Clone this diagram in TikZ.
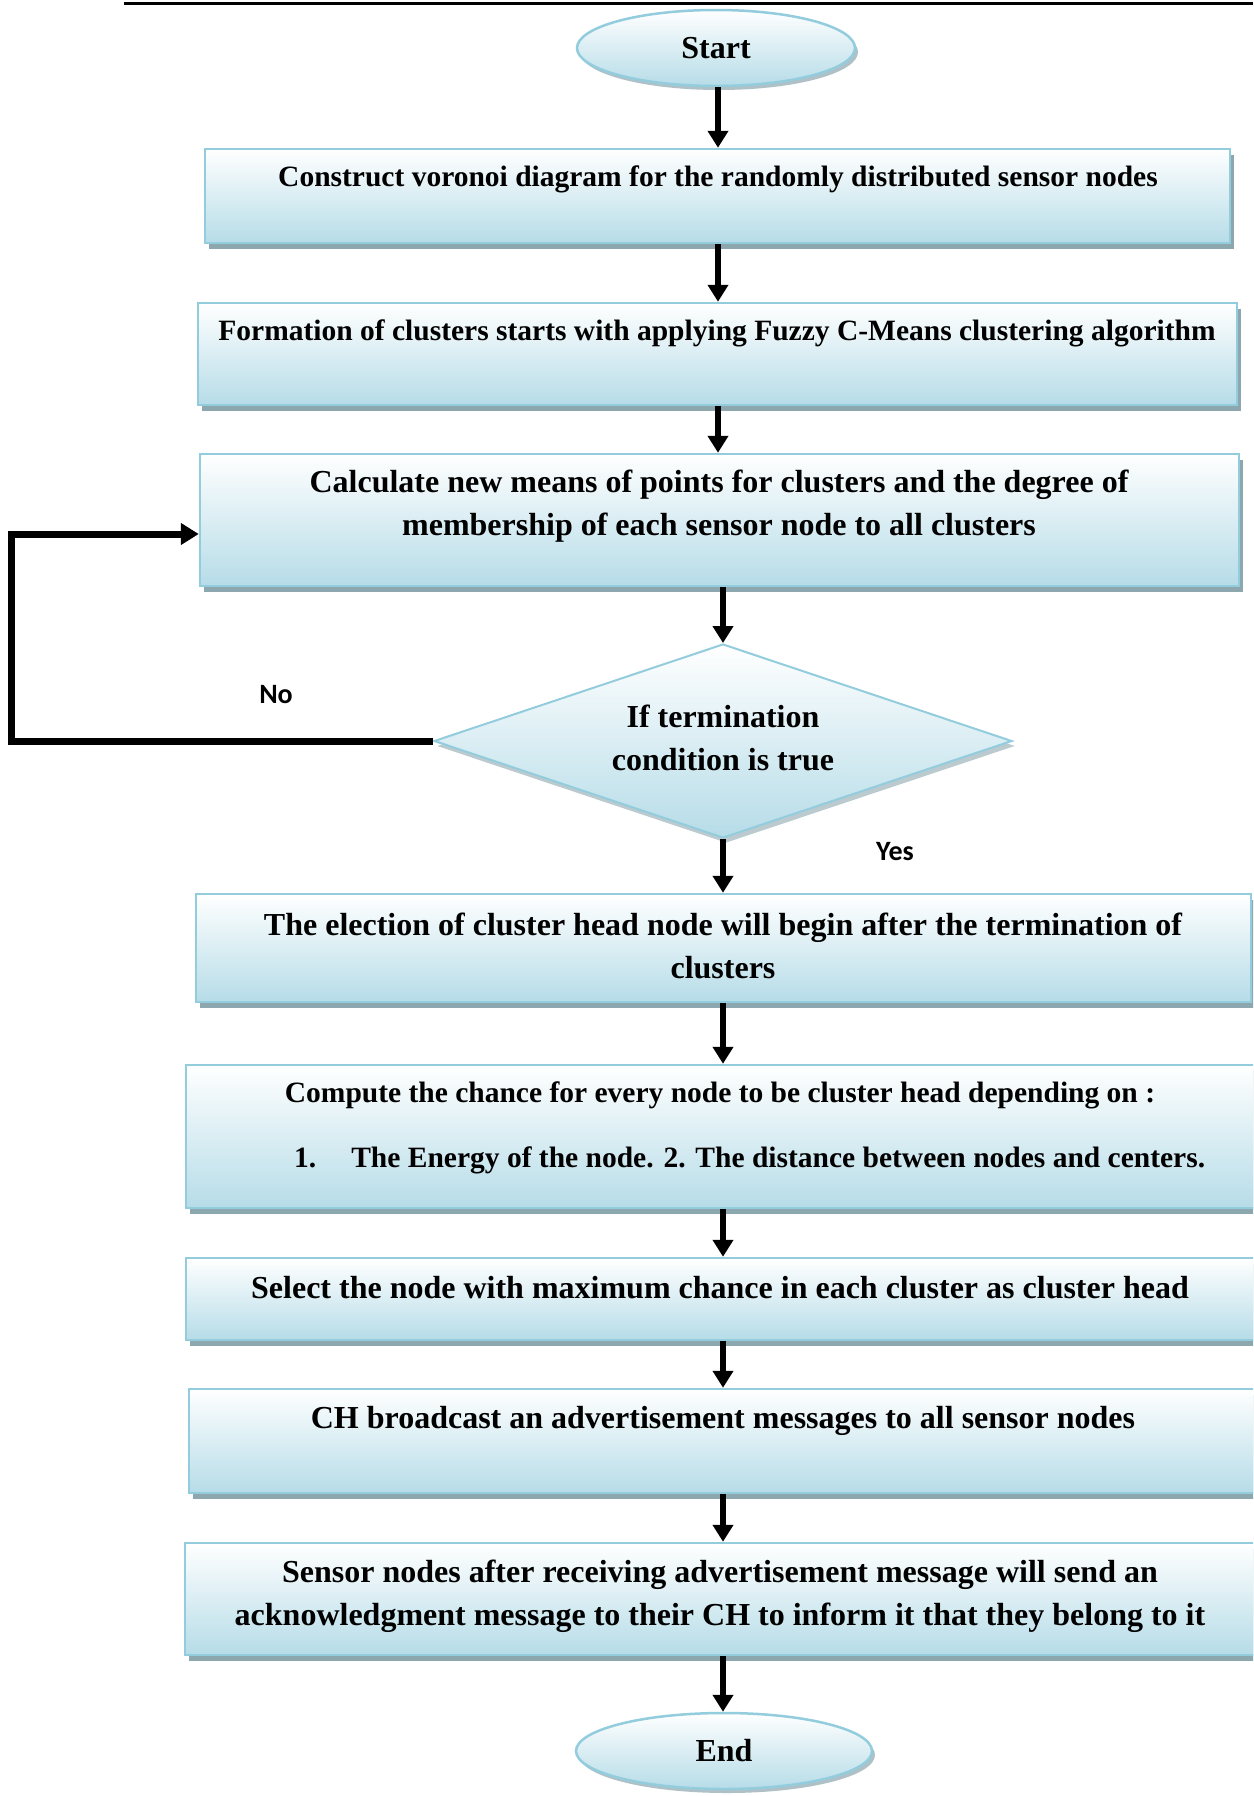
\documentclass[tikz,border=0pt]{standalone}
\usepackage{fontspec}
\setmainfont{Liberation Serif}
\newfontfamily\lblfont{Carlito}
\usetikzlibrary{shapes.geometric,shadows,arrows.meta}
\definecolor{edgeb}{HTML}{93CDDD}
\definecolor{fillb}{HTML}{B6DCE8}
\definecolor{shadc}{HTML}{8DA7AF}
\begin{document}
\begin{tikzpicture}[x=1pt,y=-1pt,
  flowbox/.style={rectangle, draw=edgeb, line width=2.5pt, top color=white, bottom color=fillb,
    inner sep=0pt, general shadow={fill=shadc, shadow xshift=4pt, shadow yshift=-6pt}},
  oval/.style={ellipse, draw=edgeb, line width=2.5pt, top color=white, bottom color=fillb,
    inner sep=0pt, general shadow={fill=shadc!70, shadow xshift=3pt, shadow yshift=-4pt},
    font=\fontsize{32}{43}\selectfont\bfseries},
  decide/.style={diamond, draw=edgeb, line width=2pt, top color=white, bottom color=fillb,
    inner sep=0pt, aspect=3, general shadow={fill=shadc!60, shadow xshift=3pt, shadow yshift=-5pt}},
  bigtxt/.style={inner sep=0pt, align=center, font=\fontsize{32}{43}\selectfont\bfseries},
  smalltxt/.style={inner sep=0pt, align=center, font=\fontsize{29.5}{40}\selectfont\bfseries},
  lbl/.style={inner sep=0pt, font=\fontsize{28}{32}\lblfont\bfseries},
  arr/.style={line width=6pt, -{Triangle[width=20pt,length=17pt]}},
  looparr/.style={line width=7pt, -{Triangle[width=21pt,length=18pt]}}
]
\clip (0,0) rectangle (1253,1796);
\fill[white] (0,0) rectangle (1253,1796);
\draw[line width=3pt] (124,3) -- (1253,3);

% nodes
\node[oval, minimum width=278pt, minimum height=76pt] (st) at (716,48) {Start};
\node[flowbox, minimum width=1025pt, minimum height=94pt] (b1) at (717.5,196) {};
\node[smalltxt] (t1) at (718,179) {Construct voronoi diagram for the randomly distributed sensor nodes};
\node[flowbox, minimum width=1039pt, minimum height=102pt] (b2) at (717.5,354) {};
\node[smalltxt] (t2) at (717,333) {Formation of clusters starts with applying Fuzzy C-Means clustering algorithm};
\node[flowbox, minimum width=1039pt, minimum height=132pt] (b3) at (719.5,520) {};
\node[bigtxt] (t3) at (719,506) {Calculate new means of points for clusters and the degree of\\membership of each sensor node to all clusters};
\node[decide, minimum width=578pt, minimum height=194pt] (dia) at (723,741) {};
\node[bigtxt] (td) at (723,738) {If termination\\condition is true};
\node[flowbox, minimum width=1055pt, minimum height=108pt] (b4) at (723.5,948) {};
\node[bigtxt] (t4) at (723,946) {The election of cluster head node will begin after the termination of\\clusters};
\node[flowbox, minimum width=1084pt, minimum height=143pt] (b5) at (728,1136.5) {};
\node[smalltxt] (t5a) at (720,1095) {Compute the chance for every node to be cluster head depending on :};
\node[smalltxt, anchor=west] (t5b) at (294,1160) {1.\hspace{35pt}The Energy of the node. 2. The distance between nodes and centers.};
\node[flowbox, minimum width=1084pt, minimum height=82pt] (b6) at (728,1299) {};
\node[bigtxt] (t6) at (720,1288) {Select the node with maximum chance in each cluster as cluster head};
\node[flowbox, minimum width=1081pt, minimum height=104pt] (b7) at (729.5,1441) {};
\node[bigtxt] (t7) at (723,1421) {CH broadcast an advertisement messages to all sensor nodes};
\node[flowbox, minimum width=1085pt, minimum height=112pt] (b8) at (727.5,1599) {};
\node[bigtxt] (t8) at (720,1596) {Sensor nodes after receiving advertisement message will send an\\acknowledgment message to their CH to inform it that they belong to it};
\node[oval, minimum width=296pt, minimum height=76pt] (en) at (724,1751) {End};

\node[lbl] (no) at (276,695) {No};
\node[lbl] (yes) at (895,852) {Yes};

% connectors
\draw[arr] (st.south -| t1.center) -- (b1.north -| t1.center);
\draw[arr] (b1.south -| t1.center) -- (b2.north -| t1.center);
\draw[arr] (b2.south -| t1.center) -- (b3.north -| t1.center);
\draw[arr] (b3.south -| dia.center) -- (dia.north);
\draw[arr] (dia.south) -- (b4.north -| dia.center);
\draw[arr] (b4.south -| dia.center) -- (b5.north -| dia.center);
\draw[arr] (b5.south -| dia.center) -- (b6.north -| dia.center);
\draw[arr] (b6.south -| dia.center) -- (b7.north -| dia.center);
\draw[arr] (b7.south -| dia.center) -- (b8.north -| dia.center);
\draw[arr] (b8.south -| dia.center) -- (en.north -| dia.center);
\coordinate (lp) at (11,534);
\draw[looparr] (dia.west) -| (lp) -- (b3.west |- lp);
\end{tikzpicture}
\end{document}
